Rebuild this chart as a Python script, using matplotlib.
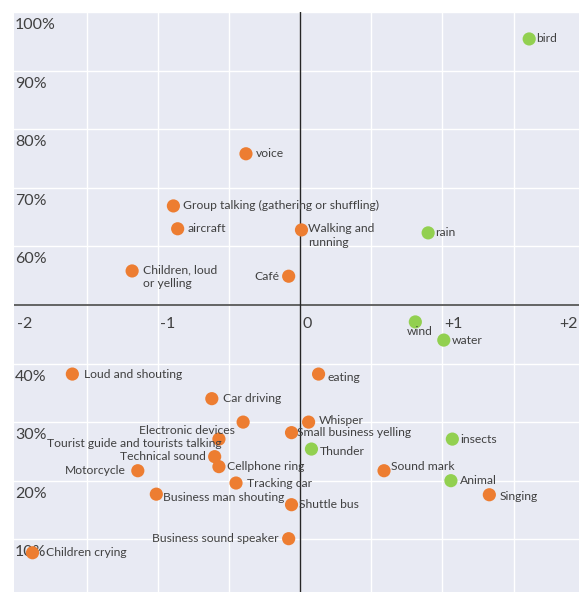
"""
Sound perception map: scatter of sound sources with percent axis
"""

import matplotlib.pyplot as plt
import numpy as np

# --- data ---
names = [
    'voice', 'Group talking (gathering or shuffling)', 'aircraft',
    'Children, loud\nor yelling', 'Café', 'Walking and\nrunning',
    'Loud and shouting', 'Car driving', 'Electronic devices',
    'Tourist guide and tourists talking', 'Technical sound', 'Cellphone ring',
    'Motorcycle', 'Tracking car', 'Business man shouting', 'Shuttle bus',
    'Business sound speaker', 'Children crying', 'Small business yelling',
    'eating', 'Whisper', 'Sound mark', 'Singing',
    'bird', 'rain', 'wind', 'water', 'Thunder', 'insects', 'Animal',
]
x_vals = [
    -0.38, -0.89, -0.86, -1.18, -0.08, 0.01,
    -1.60, -0.62, -0.40, -0.57, -0.60, -0.57,
    -1.14, -0.45, -1.01, -0.06, -0.08, -1.88, -0.06,
    0.13, 0.06, 0.59, 1.33,
    1.61, 0.90, 0.81, 1.01, 0.08, 1.07, 1.06,
]
y_vals = [
    75.8, 66.9, 63.0, 55.8, 54.9, 62.8,
    38.2, 34.0, 30.0, 27.1, 24.1, 22.4,
    21.7, 19.6, 17.7, 15.9, 10.1, 7.7, 28.2,
    38.2, 30.0, 21.7, 17.6,
    95.4, 62.3, 47.1, 44.0, 25.4, 27.1, 20.0,
]
groups = ['human'] * 23 + ['nature'] * 7

x_ticks = [-2, -1, 0, 1, 2]
x_tick_labels = ['-2', '-1', '0', '+1', '+2']
y_ticks = [10, 20, 30, 40, 60, 70, 80, 90, 100]

# --- styles ---
colors = {'human': '#ED7D31', 'nature': '#92D050'}
bg_color = '#E8EAF3'
text_color = '#404040'
plt.rcParams['font.family'] = ['Lato', 'DejaVu Sans']

# label offsets in pixels (dx right, dy up) and alignment
label_style = {
    'voice': (10, 0, 'left', 'center'),
    'Group talking (gathering or shuffling)': (10, 0, 'left', 'center'),
    'aircraft': (10, 0, 'left', 'center'),
    'Children, loud\nor yelling': (11, 7, 'left', 'top'),
    'Café': (-9, 0, 'right', 'center'),
    'Walking and\nrunning': (7, 7, 'left', 'top'),
    'Loud and shouting': (12, 0, 'left', 'center'),
    'Car driving': (11, 0, 'left', 'center'),
    'Electronic devices': (-8, -8, 'right', 'center'),
    'Tourist guide and tourists talking': (3, -4, 'right', 'center'),
    'Technical sound': (-9, 0, 'right', 'center'),
    'Cellphone ring': (8, 0, 'left', 'center'),
    'Motorcycle': (-12, 0, 'right', 'center'),
    'Tracking car': (11, 0, 'left', 'center'),
    'Business man shouting': (7, -3, 'left', 'center'),
    'Shuttle bus': (7, 0, 'left', 'center'),
    'Business sound speaker': (-10, 0, 'right', 'center'),
    'Children crying': (13, 0, 'left', 'center'),
    'Small business yelling': (5, 0, 'left', 'center'),
    'eating': (9, -3, 'left', 'center'),
    'Whisper': (10, 2, 'left', 'center'),
    'Sound mark': (7, 4, 'left', 'center'),
    'Singing': (10, -2, 'left', 'center'),
    'bird': (7, 0, 'left', 'center'),
    'rain': (7, 0, 'left', 'center'),
    'wind': (4, -10, 'center', 'center'),
    'water': (8, 0, 'left', 'center'),
    'Thunder': (8, -2, 'left', 'center'),
    'insects': (8, 0, 'left', 'center'),
    'Animal': (9, 0, 'left', 'center'),
}

fig = plt.figure(figsize=(5.79, 5.92), dpi=100)
ax = fig.add_axes([14 / 579, 0, 1 - 14 / 579, 1 - 12 / 592])
ax.set_facecolor(bg_color)
ax.set_xlim(-2.01, 1.96)
ax.set_ylim(1, 100)

# white gridlines
for gx in np.arange(-1.5, 2.0, 0.5):
    ax.axvline(gx, color='white', lw=1.0, zorder=1)
for gy in y_ticks:
    ax.axhline(gy, color='white', lw=1.0, zorder=1)

# crossing axes
ax.axhline(50, color='#595959', lw=1.3, zorder=2)
ax.axvline(0, color='#262626', lw=1.0, zorder=2)

for s in ax.spines.values():
    s.set_visible(False)
ax.set_xticks([])
ax.set_yticks([])

# points
for g in ['human', 'nature']:
    xs = [x for x, gg in zip(x_vals, groups) if gg == g]
    ys = [y for y, gg in zip(y_vals, groups) if gg == g]
    ax.scatter(xs, ys, s=90, color=colors[g], edgecolors='none', zorder=4)

# point labels
for n, x, y in zip(names, x_vals, y_vals):
    dx, dy, ha, va = label_style[n]
    ax.annotate(n, (x, y), xytext=(dx, dy), textcoords='offset pixels',
                ha=ha, va=va, fontsize=8.7, color=text_color, zorder=5,
                linespacing=1.35)

# y tick labels drawn inside the plot area
for v in y_ticks:
    ax.annotate(f'{v}%', (-2.01, v), xytext=(1, -13), textcoords='offset pixels',
                ha='left', va='center', fontsize=11.5, color=text_color, zorder=3)

# x tick labels along the 50% line (last one pulled inside the edge)
for v, lab in zip(x_ticks, x_tick_labels):
    if v == x_ticks[-1]:
        ax.annotate(lab, (1.96, 50), xytext=(-1, -19), textcoords='offset pixels',
                    ha='right', va='center', fontsize=11.5, color=text_color,
                    zorder=3)
    else:
        ax.annotate(lab, (v, 50), xytext=(2, -19), textcoords='offset pixels',
                    ha='left', va='center', fontsize=11.5, color=text_color,
                    zorder=3)

plt.savefig('out.png', dpi=100)
